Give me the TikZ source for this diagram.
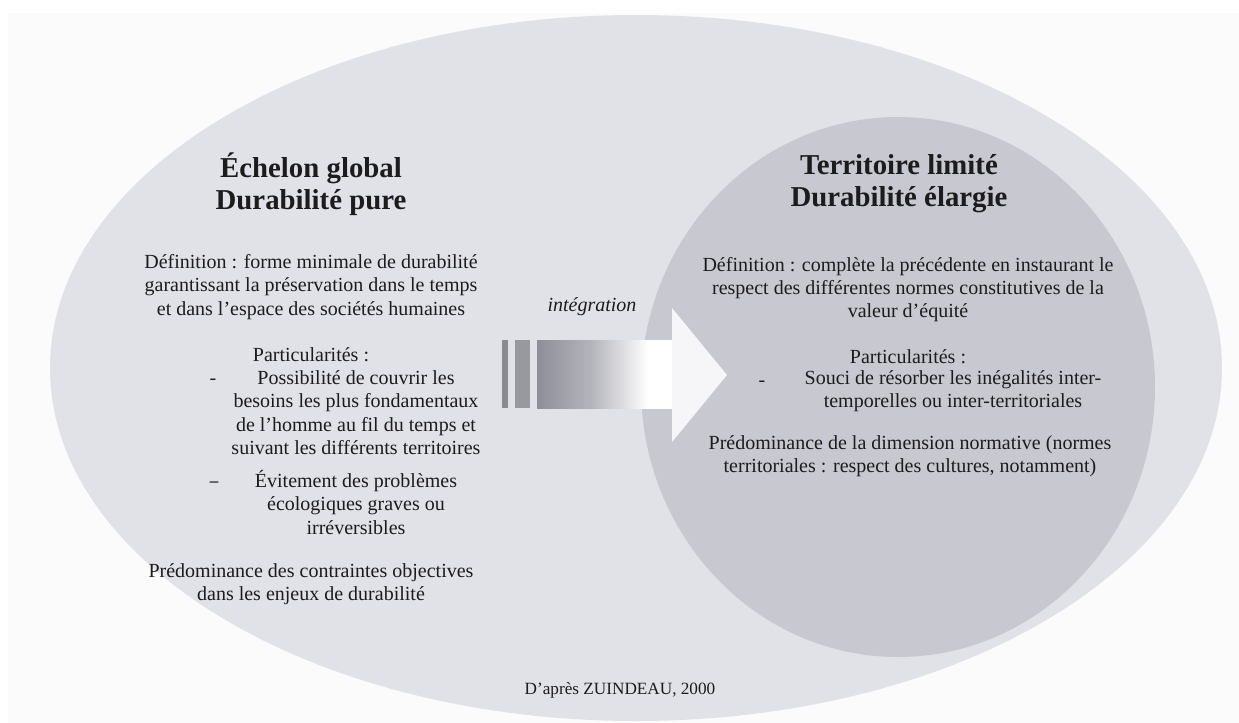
\documentclass[tikz,border=0pt]{standalone}
\usepackage{fontspec}
\setmainfont{Liberation Serif}
\usetikzlibrary{shapes.geometric}
\definecolor{pagebg}{HTML}{FBFBFB}
\definecolor{outerfill}{HTML}{E1E1E8}
\definecolor{innerfill}{HTML}{C8C8D1}
\definecolor{barone}{HTML}{8A8A92}
\definecolor{bartwo}{HTML}{98989F}
\definecolor{arrowdark}{HTML}{8E8E98}
\definecolor{arrowmid}{HTML}{B4B4BC}
\definecolor{headfill}{HTML}{F6F6F8}
\definecolor{ink}{HTML}{1C1C1C}
\pgfdeclarehorizontalshading{bodyshade}{100bp}{color(0bp)=(arrowdark); color(25bp)=(arrowdark); color(45bp)=(arrowmid); color(66bp)=(white); color(100bp)=(white)}
\tikzset{
  bodytext/.style={text=ink, align=center, inner sep=0pt, font=\fontsize{10}{11.65}\selectfont},
  titletext/.style={text=ink, align=center, inner sep=0pt, font=\bfseries\fontsize{14.4}{16}\selectfont},
  dashmark/.style={text=ink, inner sep=0pt, font=\fontsize{10}{11.65}\selectfont},
  footnote/.style={text=ink, inner sep=0pt, font=\fontsize{8.6}{10}\selectfont}
}
\begin{document}
\begin{tikzpicture}[x=0.5pt,y=-0.5pt]
\useasboundingbox (0,0) rectangle (1239,723);
\fill[white] (0,0) rectangle (1239,723);
\fill[pagebg] (8,13) rectangle (1239,723);
% ellipses
\fill[outerfill] (636,368) ellipse [x radius=586, y radius=353];
\fill[innerfill] (898,387) ellipse [x radius=257, y radius=270];
% arrow
\fill[barone] (502,340) rectangle (508,408);
\fill[bartwo] (515,340) rectangle (530,408);
\path[shading=bodyshade] (537,340) rectangle (673,408);
\fill[headfill] (672,308) -- (727,375) -- (672,442) -- cycle;
% left texts
\node[titletext] (ltitle) at (311,184) {Échelon global\\Durabilité pure};
\node[bodytext] (ldef) at (311,287) {Définition : forme minimale de durabilité\\garantissant la préservation dans le temps\\et dans l’espace\ des sociétés humaines};
\node[bodytext] (lpart) at (311,355) {Particularités :};
\node[dashmark] (ldashone) at (213,382) {-};
\node[bodytext] (litemone) at (356,412.5) {Possibilité de couvrir les\\besoins les plus fondamentaux\\de l’homme au fil du temps et\\suivant les différents territoires};
\node[dashmark, font=\bfseries\fontsize{8.5}{10}\selectfont] (ldashtwo) at (214,484) {–};
\node[bodytext] (litemtwo) at (356,502.5) {Évitement des problèmes\\écologiques graves ou\\irréversibles};
\node[bodytext] (lpred) at (311,584) {Prédominance des contraintes objectives\\dans les enjeux de durabilité};
% right texts
\node[titletext] (rtitle) at (899,184) {Territoire limité\\Durabilité élargie};
\node[bodytext] (rdef) at (908,289.5) {Définition : complète la précédente en instaurant le\\respect des différentes normes constitutives de la\\valeur d’équité};
\node[bodytext] (rpart) at (908,357) {Particularités :};
\node[dashmark] (rdash) at (762,384) {-};
\node[bodytext] (ritem) at (953,391) {Souci de résorber les inégalités inter-\\temporelles ou inter-territoriales};
\node[bodytext] (rpred) at (910,456) {Prédominance de la dimension normative (normes\\territoriales : respect des cultures, notamment)};
% arrow label and source
\node[bodytext, font=\itshape\fontsize{10}{11.65}\selectfont] (integ) at (592,307) {intégration};
\node[footnote] (source) at (620,690) {D'après ZUINDEAU, 2000};
\end{tikzpicture}
\end{document}
